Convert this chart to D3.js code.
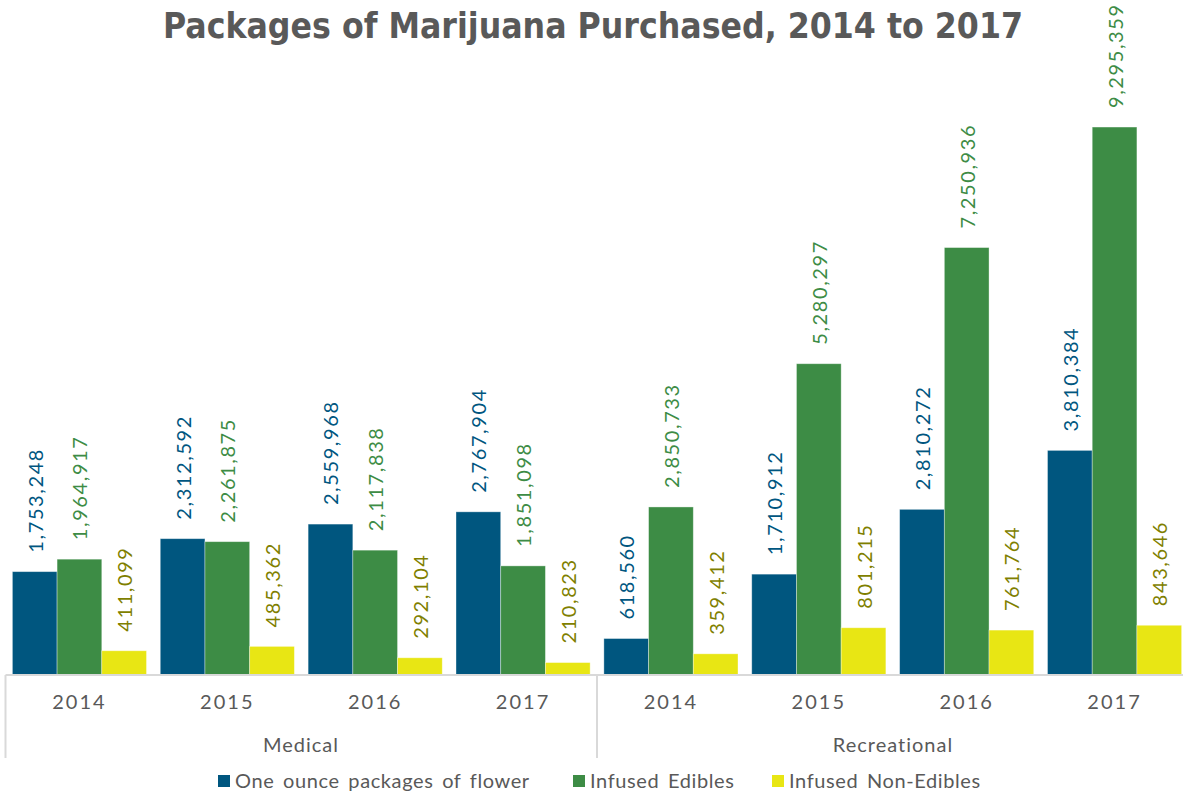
<!DOCTYPE html>
<html><head><meta charset="utf-8">
<script src="https://cdn.jsdelivr.net/npm/d3@7"></script>
<style>
html,body{margin:0;padding:0;background:#fff;}
svg{display:block;}
</style></head>
<body>
<svg id="chart" width="1183" height="798"></svg>
<script>
const title = "Packages of Marijuana Purchased, 2014 to 2017";
const years = ["2014", "2015", "2016", "2017"];
const segments = ["Medical", "Recreational"];
const seriesNames = ["One ounce packages of flower", "Infused Edibles", "Infused Non-Edibles"];
const flower = [1753248, 2312592, 2559968, 2767904, 618560, 1710912, 2810272, 3810384];
const edibles = [1964917, 2261875, 2117838, 1851098, 2850733, 5280297, 7250936, 9295359];
const nonEdibles = [411099, 485362, 292104, 210823, 359412, 801215, 761764, 843646];
const barColors = ["#00567f", "#3d8c45", "#e8e614"];
const labelColors = ["#00567f", "#3d8c45", "#7f7f00"];

const groups = [];
segments.forEach(s => years.forEach(y => groups.push({seg: s, year: y})));
const seriesData = [flower, edibles, nonEdibles];

const svg = d3.select("#chart");
const baseY = 675;
const plotLeft = 5.5, plotRight = 1188.5;

const x0 = d3.scaleBand().domain(d3.range(groups.length)).range([plotLeft, plotRight])
  .paddingInner(0.093).paddingOuter(0.0465);
const x1 = d3.scaleBand().domain(d3.range(seriesNames.length)).range([0, x0.bandwidth()]);
const y = d3.scaleLinear().domain([0, 10000000]).range([baseY, baseY - 589.5]);
const fmt = d3.format(",");

const font = "Lato, 'Noto Sans', sans-serif";

// title
svg.append("text")
  .attr("x", 593).attr("y", 38)
  .attr("text-anchor", "middle")
  .attr("font-family", "'DejaVu Sans Condensed', 'DejaVu Sans', sans-serif")
  .attr("font-weight", "bold")
  .attr("font-size", 35)
  .attr("fill", "#595959")
  .attr("textLength", 860).attr("lengthAdjust", "spacingAndGlyphs")
  .text(title);

// bars
const g = svg.append("g");
groups.forEach((grp, i) => {
  seriesData.forEach((arr, s) => {
    const v = arr[i];
    const bx = x0(i) + x1(s);
    g.append("rect")
      .attr("x", bx).attr("y", y(v))
      .attr("width", x1.bandwidth()).attr("height", baseY - y(v))
      .attr("fill", barColors[s])
      .attr("stroke", "#ffffff").attr("stroke-opacity", 0.45).attr("stroke-width", 0.8);
    const cx = bx + x1.bandwidth() / 2;
    g.append("text")
      .attr("transform", `translate(${cx},${y(v) - 19}) rotate(-90)`)
      .attr("text-anchor", "start")
      .attr("dominant-baseline", "central")
      .attr("font-family", font)
      .attr("font-size", 20)
      .attr("letter-spacing", 1.6)
      .attr("fill", labelColors[s])
      .text(fmt(v));
  });
});

// axis
const axisColor = "#d9d9d9";
svg.append("line").attr("x1", plotLeft).attr("x2", plotRight).attr("y1", baseY).attr("y2", baseY)
  .attr("stroke", axisColor).attr("stroke-width", 2);
const sepX = [plotLeft, (x0(3) + x0.bandwidth() + x0(4)) / 2, plotRight];
sepX.forEach(sx => {
  svg.append("line").attr("x1", sx).attr("x2", sx).attr("y1", baseY).attr("y2", 758)
    .attr("stroke", axisColor).attr("stroke-width", 2);
});
groups.forEach((grp, i) => {
  svg.append("text")
    .attr("x", x0(i) + x0.bandwidth() / 2).attr("y", 709)
    .attr("text-anchor", "middle")
    .attr("font-family", font).attr("font-size", 20).attr("letter-spacing", 2)
    .attr("fill", "#595959")
    .text(grp.year);
});
const segCenters = [301, 893];
segments.forEach((s, k) => {
  svg.append("text")
    .attr("x", segCenters[k]).attr("y", 752)
    .attr("text-anchor", "middle")
    .attr("font-family", font).attr("font-size", 20).attr("letter-spacing", 1)
    .attr("fill", "#595959")
    .text(s);
});

// legend
const legendX = [218, 573, 772];
seriesNames.forEach((n, s) => {
  const lx = legendX[s];
  svg.append("rect").attr("x", lx).attr("y", 775).attr("width", 12).attr("height", 12)
    .attr("fill", barColors[s]);
  svg.append("text").attr("x", lx + 17).attr("y", 788)
    .attr("font-family", font).attr("font-size", 20).attr("letter-spacing", 0.6)
    .attr("word-spacing", 3)
    .attr("fill", "#595959")
    .text(n);
});
</script>
</body></html>
